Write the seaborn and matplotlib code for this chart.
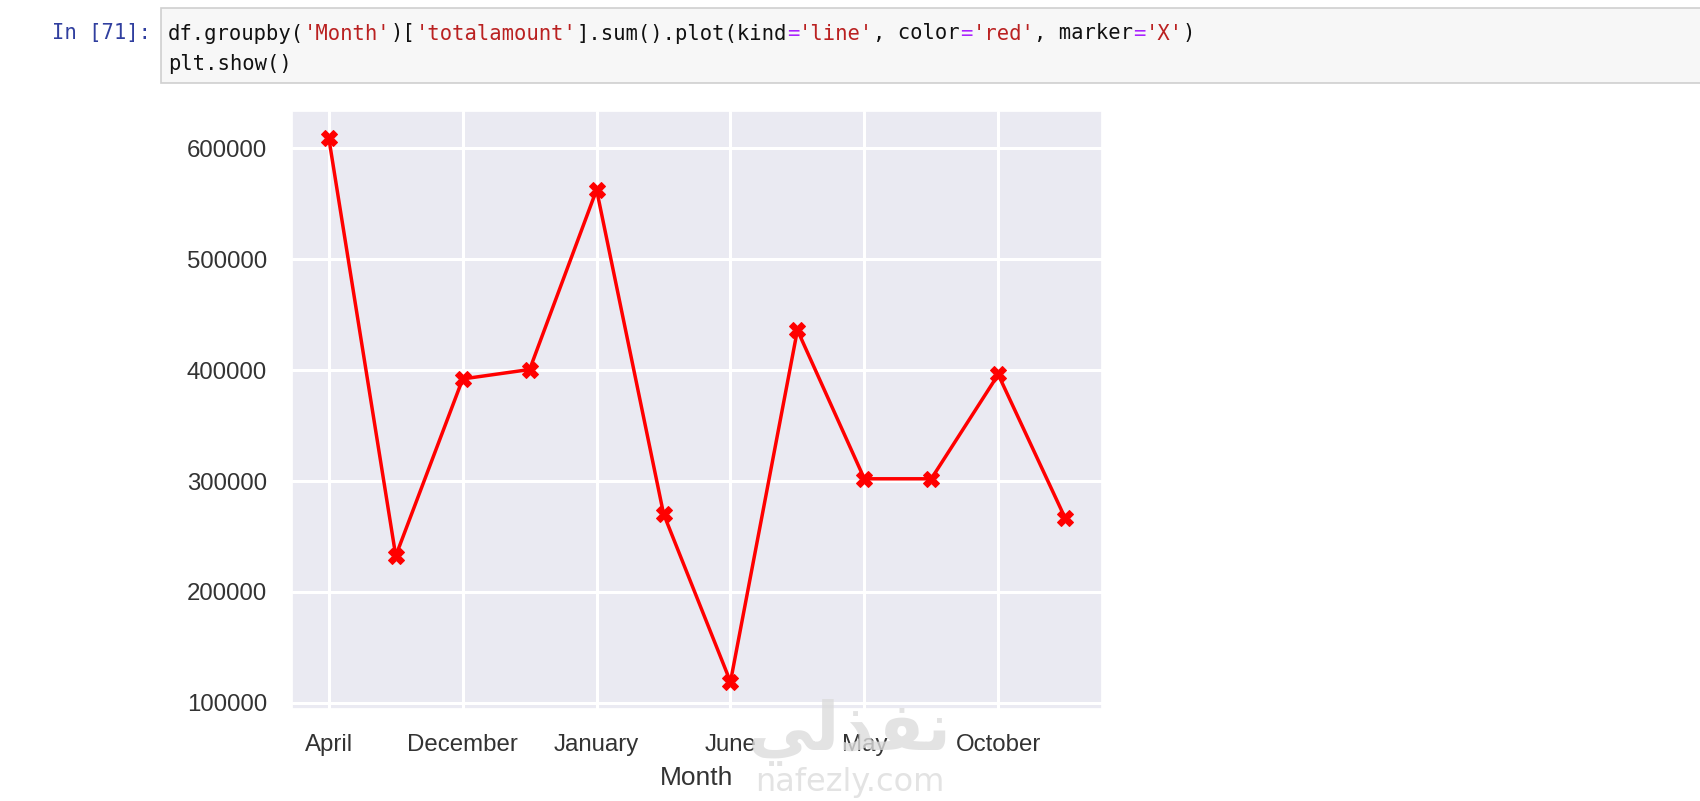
import pandas as pd
import matplotlib.pyplot as plt
import matplotlib.patches as patches
import seaborn as sns

# monthly totals, months in alphabetical order like groupby gives them
months = ['April', 'August', 'December', 'February', 'January', 'July',
          'June', 'March', 'May', 'November', 'October', 'September']
totals = [609000, 232500, 392000, 400500, 562500, 270500,
          119000, 436000, 302000, 302000, 396000, 266500]
tick_months = months[::2]

W, H = 1700, 801

sns.set_theme(style='darkgrid')
plt.rcParams['font.family'] = ['Liberation Sans', 'DejaVu Sans']

fig = plt.figure(figsize=(W / 100, H / 100), dpi=100)
fig.patch.set_facecolor('white')


def fx(px):
    return px / W


def fy(py):
    return 1 - py / H


# notebook code cell
fig.patches.append(patches.Rectangle((fx(161), fy(83)), fx(1545), 75 / H,
                                     transform=fig.transFigure, facecolor='#f7f7f7',
                                     edgecolor='#cfcfcf', lw=1.2))
mono = dict(family='DejaVu Sans Mono', fontsize=14.8, va='baseline')
char_w = 14.8 * 100 / 72 * 0.602
fig.text(fx(52), fy(39.5), 'In [71]:', color='#303F9F', **mono)

line1 = [("df.groupby(", '#111111'), ("'Month'", '#BA2121'), (")[", '#111111'),
         ("'totalamount'", '#BA2121'), ("].sum().plot(kind", '#111111'),
         ("=", '#AA22FF'), ("'line'", '#BA2121'), (", color", '#111111'),
         ("=", '#AA22FF'), ("'red'", '#BA2121'), (", marker", '#111111'),
         ("=", '#AA22FF'), ("'X'", '#BA2121'), (")", '#111111')]
pos = 0
for seg, col in line1:
    fig.text(fx(168 + pos * char_w), fy(39.5), seg, color=col, **mono)
    pos += len(seg)
fig.text(fx(168), fy(70), 'plt.show()', color='#111111', **mono)

# the chart
df = pd.DataFrame({'Month': months, 'totalamount': totals})
ax = fig.add_axes([fx(292), 1 - 709 / H, fx(810), 598 / H])
sns.lineplot(data=df, x='Month', y='totalamount', ax=ax, color='red',
             marker='X', markersize=11, markeredgecolor='red', lw=2.5)
ax.set_xticks(range(0, len(months), 2))
ax.set_xticklabels(tick_months)
ax.grid(color='white', lw=2.2)
ax.tick_params(axis='both', labelsize=17.3, pad=18, colors='#333333', length=0)
ax.set_xlabel('Month', fontsize=19, color='#333333', labelpad=7)
ax.set_ylabel('')

# watermark
fig.text(fx(850), fy(732), '\uFEF2\uFEDF\uFEAC\uFED4\uFEE7', family='DejaVu Sans',
         fontweight='bold', fontsize=48, color='#dcdcdc', alpha=0.8,
         ha='center', va='center', zorder=0)
fig.text(fx(850), fy(782), 'nafezly.com', family='DejaVu Sans', fontsize=23,
         color='#dcdcdc', alpha=0.8, ha='center', va='center', zorder=0)

fig.savefig('out.png', dpi=100)
